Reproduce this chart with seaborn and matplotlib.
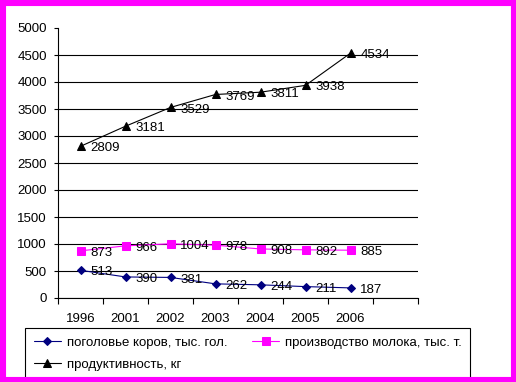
import matplotlib
matplotlib.use("Agg")
import matplotlib.pyplot as plt
import seaborn as sns
import numpy as np
from matplotlib.patches import Rectangle

years = ["1996", "2001", "2002", "2003", "2004", "2005", "2006"]
cows = [513, 390, 381, 262, 244, 211, 187]
milk = [873, 966, 1004, 978, 908, 892, 885]
productivity = [2809, 3181, 3529, 3769, 3811, 3938, 4534]

label_cows = "поголовье коров, тыс. гол."
label_milk = "производство молока, тыс. т."
label_prod = "продуктивность, кг"

sns.set_style("ticks")
plt.rcParams['font.family'] = ['Liberation Sans', 'DejaVu Sans']
plt.rcParams['font.size'] = 9.5
plt.rcParams['axes.edgecolor'] = 'black'
plt.rcParams['xtick.color'] = 'black'
plt.rcParams['ytick.color'] = 'black'
plt.rcParams['text.color'] = 'black'

W, H = 516, 382
fig = plt.figure(figsize=(W / 100, H / 100), dpi=100)
fig.patch.set_facecolor('white')
ax = fig.add_axes([58 / W, 84 / H, 360 / W, 270 / H])

pos = np.arange(len(years))
series = [
    (cows, label_cows, '#000080', 'D', 4.5),
    (milk, label_milk, '#ff00ff', 's', 5.5),
    (productivity, label_prod, 'black', '^', 6),
]
for vals, name, color, marker, ms in series:
    sns.lineplot(x=pos, y=vals, ax=ax, color=color, marker=marker,
                 markersize=ms, markeredgecolor=color, linewidth=0.8,
                 label=name, zorder=3)
    for x, v in zip(pos, vals):
        ax.annotate(str(v), (x, v), xytext=(7, -1.5), textcoords='offset points',
                    ha='left', va='center', fontsize=9.5, zorder=4)

ax.set_xlim(-0.5, 7.5)
ax.set_ylim(0, 5000)
ax.set_yticks(np.arange(0, 5001, 500))
ax.set_xticks(np.arange(-0.5, 8, 1))
ax.set_xticklabels([])
ax.set_xticks(pos, minor=True)
ax.set_xticklabels(years, minor=True)
ax.tick_params(axis='x', which='major', length=4, width=0.8, direction='out')
ax.tick_params(axis='x', which='minor', length=0, pad=11)
ax.tick_params(axis='y', length=3, width=0.8, pad=5)
ax.yaxis.grid(True, color='black', linewidth=0.8)
ax.get_ygridlines()[-1].set_visible(False)
ax.set_xlabel("")
ax.set_ylabel("")
sns.despine(ax=ax)
for s in ['left', 'bottom']:
    ax.spines[s].set_linewidth(0.8)

handles, labels = ax.get_legend_handles_labels()
ax.get_legend().remove()
order = [0, 2, 1]
leg = fig.legend([handles[i] for i in order], [labels[i] for i in order],
                 loc='upper left', bbox_to_anchor=(25 / W, 1 - 328 / H, 445 / W, 0),
                 mode='expand', ncol=2, fancybox=False, framealpha=1,
                 edgecolor='black', borderaxespad=0, handlelength=2.1,
                 handletextpad=0.4, labelspacing=0.75, borderpad=0.65,
                 fontsize=9.5)
leg.get_frame().set_linewidth(0.8)

fig.add_artist(Rectangle((0, 0), 1, 1, transform=fig.transFigure, fill=False,
                         edgecolor='#ff00ff', linewidth=8, zorder=20))

fig.savefig("out.png", dpi=100)
